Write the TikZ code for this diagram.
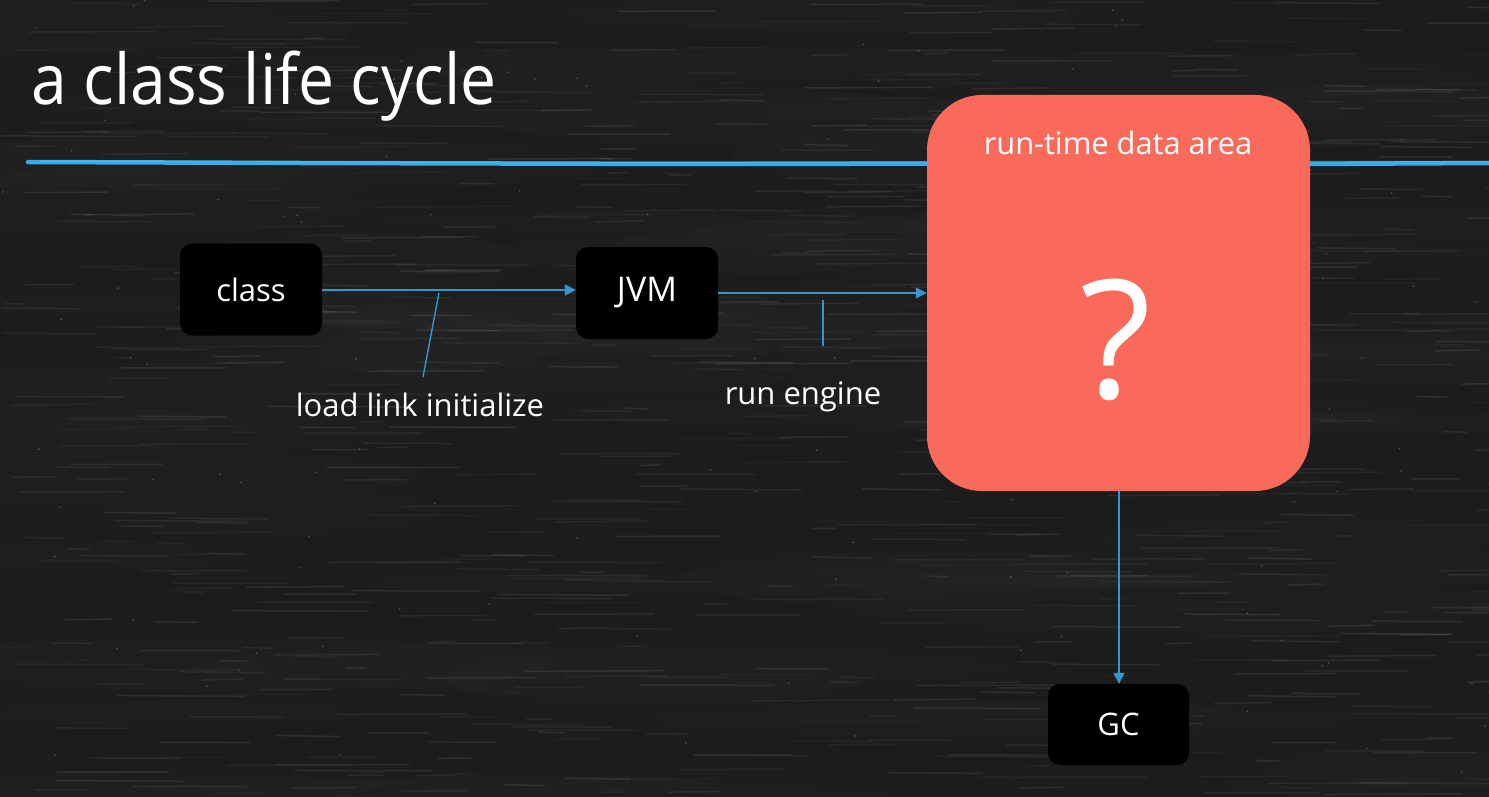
\documentclass[tikz,border=0pt]{standalone}
\usepackage{fontspec}
\setmainfont{Open Sans}
\newfontfamily\titlefont[FakeStretch=0.917]{Open Sans}
\usetikzlibrary{arrows.meta}
\definecolor{board}{RGB}{28,28,28}
\definecolor{chalkblue}{RGB}{55,172,232}
\definecolor{wire}{RGB}{52,150,205}
\definecolor{salmon}{RGB}{250,106,90}
\tikzset{
  blackbox/.style={fill=black, rounded corners=12pt, text=white,
    minimum width=142pt, minimum height=92pt, inner sep=0pt,
    font=\fontsize{31}{34}\selectfont},
  areabox/.style={fill=salmon, rounded corners=55pt, minimum width=383pt,
    minimum height=396pt, inner sep=0pt},
  flow/.style={draw=wire, line width=1.6pt, -{Triangle[length=11pt,width=11pt]}},
  pointer/.style={draw=wire, line width=1.4pt},
  caption/.style={text=white, inner sep=0pt, font=\fontsize{31}{34}\selectfont}
}
\begin{document}
\begin{tikzpicture}[x=1pt,y=-1pt]
  % chalkboard background
  \fill[board] (0,0) rectangle (1489,797);
  \useasboundingbox (0,0) rectangle (1489,797);
  \pgfmathsetseed{42}
  \foreach \i in {1,...,60}{
    \pgfmathsetmacro\px{rnd*1489}
    \pgfmathsetmacro\py{rnd*797}
    \pgfmathsetmacro\pl{150+rnd*300}
    \fill[white, opacity=0.012] (\px,\py) ellipse ({\pl pt} and {8+rnd*25 pt});
  }
  \foreach \i in {1,...,700}{
    \pgfmathsetmacro\px{rnd*1489}
    \pgfmathsetmacro\py{rnd*797}
    \pgfmathsetmacro\pl{20+rnd*120}
    \pgfmathsetmacro\po{0.03+rnd*0.06}
    \draw[white, opacity=\po, line width=1.5pt] (\px,\py) -- ++(\pl,rnd*2-1);
  }
  \foreach \i in {1,...,120}{
    \pgfmathsetmacro\px{rnd*1489}
    \pgfmathsetmacro\py{rnd*797}
    \fill[white, opacity=0.25] (\px,\py) circle (0.9pt);
  }
  % title and chalk rule
  \node[anchor=base west, text=white, inner sep=0pt, font=\titlefont\fontsize{70}{80}\selectfont]
    (title) at (31,105) {a class life cycle};
  \draw[chalkblue, line width=4.5pt, line cap=round]
    (28,162) -- (300,163) -- (700,164) -- (1000,163.5) -- (1300,164) -- (1489,163);
  \draw[chalkblue!80!white, opacity=0.5, line width=1.5pt]
    (40,161) -- (500,162.5) -- (1489,161.5);
  % nodes
  \node[blackbox] (class) at (251,289.5) {class};
  \node[blackbox, font=\fontsize{34}{36}\selectfont] (jvm) at (647,293) {JVM};
  \node[areabox] (area) at (1118.5,293) {};
  \node[text=white, inner sep=0pt, font=\fontsize{30.8}{34}\selectfont, anchor=base]
    (areatitle) at (1118,154) {run-time data area};
  \node[text=white, inner sep=0pt, font=\fontsize{165}{170}\selectfont]
    (quest) at (1116,340) {?};
  \node[blackbox, minimum width=141pt, minimum height=81pt] (gc) at (1118.5,724.5) {GC};
  % connectors
  \draw[flow] (class.east |- 0,290) -- (jvm.west |- 0,290);
  \draw[flow] (jvm.east) -- (area.west |- jvm.east);
  \draw[flow] (area.south -| 1119,0) -- (gc.north -| 1119,0);
  % labels
  \node[caption, anchor=base] (lli) at (420,416) {load link initialize};
  \node[caption, anchor=base] (runeng) at (803,404) {run engine};
  \coordinate (p1) at (439,293);
  \coordinate (p2) at (423,377);
  \draw[pointer] (p1) -- (p2);
  \coordinate (q1) at (823,300);
  \coordinate (q2) at (823,346);
  \draw[pointer] (q1) -- (q2);
\end{tikzpicture}
\end{document}
